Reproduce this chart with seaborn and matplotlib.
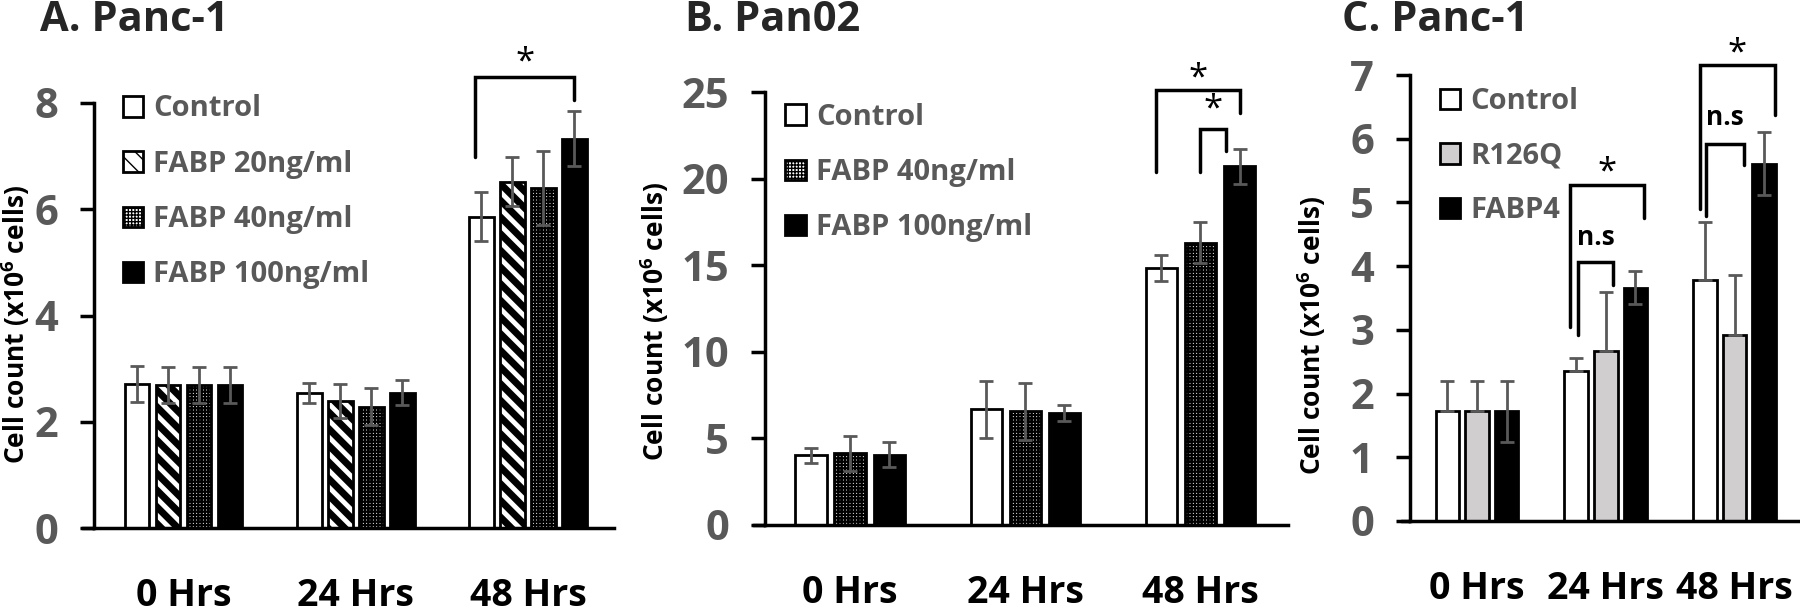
import numpy as np
import pandas as pd
import seaborn as sns
import matplotlib.pyplot as plt

# 時間(カテゴリ)
hours = ["0 Hrs", "24 Hrs", "48 Hrs"]

# A. Panc-1
a_groups = ["Control", "FABP 20ng/ml", "FABP 40ng/ml", "FABP 100ng/ml"]
a_mean = [[2.71, 2.54, 5.86], [2.70, 2.40, 6.52], [2.70, 2.28, 6.40], [2.70, 2.55, 7.33]]
a_err = [[0.34, 0.19, 0.46], [0.34, 0.32, 0.46], [0.34, 0.35, 0.70], [0.34, 0.23, 0.52]]

# B. Pan02
b_groups = ["Control", "FABP 40ng/ml", "FABP 100ng/ml"]
b_mean = [[4.02, 6.67, 14.83], [4.13, 6.56, 16.30], [4.06, 6.49, 20.70]]
b_err = [[0.44, 1.65, 0.77], [1.00, 1.65, 1.20], [0.73, 0.46, 1.00]]

# C. Panc-1
c_groups = ["Control", "R126Q", "FABP4"]
c_mean = [[1.72, 2.36, 3.79], [1.72, 2.67, 2.92], [1.72, 3.66, 5.60]]
c_err_up = [[0.47, 0.20, 0.91], [0.47, 0.92, 0.94], [0.47, 0.26, 0.50]]
c_err_lo = [[0.0, 0.0, 0.0], [0.0, 0.0, 0.0], [0.48, 0.26, 0.49]]

# 有意差ブラケット: (時間, 左バー, 左ずれ, 右バー, 右ずれ, 上端, 左下端, 右下端, 文字, 文字y)
a_brackets = [(2, 0, -0.24, 3, 0.0, 8.49, 6.99, 8.06, "*", 8.76)]
b_brackets = [(2, 0, -0.16, 2, 0.0, 25.1, 20.4, 23.8, "*", 25.8),
              (2, 1, 0.0, 2, -0.42, 22.85, 20.4, 21.6, "*", 24.0)]
c_brackets = [(1, 0, -0.27, 2, 0.37, 5.27, 3.04, 4.75, "*", 5.47),
              (1, 0, 0.08, 1, 0.30, 4.06, 2.92, 3.70, "n.s", 4.45),
              (2, 0, -0.23, 2, 0.44, 7.15, 4.90, 6.37, "*", 7.33),
              (2, 0, 0.05, 1, 0.39, 5.92, 4.78, 5.59, "n.s", 6.34)]

sns.set_style("white")
plt.rcParams['font.family'] = ['Open Sans', 'DejaVu Sans']
plt.rcParams['mathtext.fontset'] = 'custom'
plt.rcParams['mathtext.rm'] = 'Open Sans:bold'
plt.rcParams['mathtext.it'] = 'Open Sans:bold'
plt.rcParams['mathtext.bf'] = 'Open Sans:bold'

GRAY = "#595959"

fig = plt.figure(figsize=(18, 6.15), dpi=100)


def to_long(groups, means):
    rows = []
    for g, m in zip(groups, means):
        for h, v in zip(hours, m):
            rows.append({"hour": h, "group": g, "value": v})
    return pd.DataFrame(rows)


def panel(rect, groups, means, err_lo, err_up, colors, hatches, width, ylim, yticks,
          brackets, leg_anchor, leg_space, xlim, lab_xy):
    ax = fig.add_axes(rect)
    df = to_long(groups, means)
    sns.barplot(data=df, x="hour", y="value", hue="group", order=hours, hue_order=groups,
                palette=dict(zip(groups, colors)), width=width, gap=0.2,
                errorbar=None, legend=False, ax=ax)
    bars = list(ax.containers)
    centers = []
    for i, cont in enumerate(bars):
        xs = []
        for p in cont.patches:
            p.set_edgecolor("black")
            p.set_linewidth(2)
            if hatches[i]:
                p.set_hatch(hatches[i][0])
                if hasattr(p, "set_hatch_linewidth"):
                    p.set_hatch_linewidth(hatches[i][1])
            xs.append(p.get_x() + p.get_width() / 2)
        centers.append(xs)
        ax.errorbar(xs, means[i], yerr=[err_lo[i], err_up[i]], fmt="none",
                    ecolor=GRAY, elinewidth=2, capsize=5, capthick=2, zorder=5)
    bw = bars[0].patches[0].get_width()

    for (h, lb, lo, rb, ro, top, lbot, rbot, txt, ty) in brackets:
        x1 = centers[lb][h] + lo * bw
        x2 = centers[rb][h] + ro * bw
        ax.plot([x1, x1, x2, x2], [lbot, top, top, rbot], color="black", lw=2.5,
                clip_on=False, solid_joinstyle="miter", zorder=6)
        if txt == "*":
            ax.text((x1 + x2) / 2, ty, txt, ha="center", va="center", fontsize=25,
                    color="black")
        else:
            ax.text((x1 + x2) / 2, ty, txt, ha="center", va="center", fontsize=19,
                    fontweight="bold", color="black")

    ax.set_ylim(*ylim)
    ax.set_xlim(*xlim)
    # x軸が y軸より少し左へはみ出している
    ax.plot([xlim[0] - 0.07, xlim[0]], [0, 0], color="black", lw=2.5, clip_on=False)
    ax.set_yticks(yticks)
    ax.set_xlabel("")
    ax.set_ylabel("Cell count (x10$^6$ cells)", fontsize=19, fontweight="bold",
                  color="black")
    ax.yaxis.label.set_va("center")
    ax.yaxis.set_label_coords(*lab_xy)
    for s in ["top", "right"]:
        ax.spines[s].set_visible(False)
    for s in ["left", "bottom"]:
        ax.spines[s].set_color("black")
        ax.spines[s].set_linewidth(2.5)
    ax.tick_params(axis="y", direction="out", length=10, width=2.5, color="black",
                   labelsize=30, labelcolor=GRAY, pad=16, left=True)
    ax.tick_params(axis="x", length=0, labelsize=27, labelcolor="black", pad=35)
    for t in ax.get_yticklabels() + ax.get_xticklabels():
        t.set_fontweight("bold")

    leg = ax.legend(bars, groups, loc="upper left", bbox_to_anchor=leg_anchor,
                    frameon=False, borderpad=0, borderaxespad=0, handlelength=0.7,
                    handleheight=0.7, handletextpad=0.35, labelspacing=leg_space,
                    prop={"size": 21, "weight": "bold"})
    for t in leg.get_texts():
        t.set_color(GRAY)
    return ax


panel([94 / 1800, 1 - 528 / 615, 520 / 1800, 425 / 615], a_groups, a_mean, a_err, a_err,
      ["white", "white", "white", "black"], [None, ("\\\\", 5), ("+++++", 1.6), None],
      0.72, (0, 8), [0, 2, 4, 6, 8], a_brackets, (0.055, 1.02), 0.9, (-0.52, 2.5),
      (-0.15, 0.48))
panel([765 / 1800, 1 - 525 / 615, 523 / 1800, 433 / 615], b_groups, b_mean, b_err, b_err,
      ["white", "white", "black"], [None, ("+++++", 1.6), None],
      0.67, (0, 25), [0, 5, 10, 15, 20, 25], b_brackets, (0.039, 0.975), 0.9,
      (-0.486, 2.5), (-0.212, 0.469))
panel([1410 / 1800, 1 - 521 / 615, 389 / 1800, 446 / 615], c_groups, c_mean, c_err_lo,
      c_err_up, ["white", "#d0cece", "black"], [None, None, None],
      0.69, (0, 7), [0, 1, 2, 3, 4, 5, 6, 7], c_brackets, (0.077, 0.972), 0.87,
      (-0.52, 2.5), (-0.252, 0.417))

fig.text(40 / 1800, 1 - 31 / 615, "A. Panc-1", fontsize=30, fontweight="bold", va="baseline")
fig.text(685 / 1800, 1 - 31 / 615, "B. Pan02", fontsize=30, fontweight="bold", va="baseline")
fig.text(1342 / 1800, 1 - 31 / 615, "C. Panc-1", fontsize=30, fontweight="bold", va="baseline")

fig.savefig("out.png", dpi=100)
